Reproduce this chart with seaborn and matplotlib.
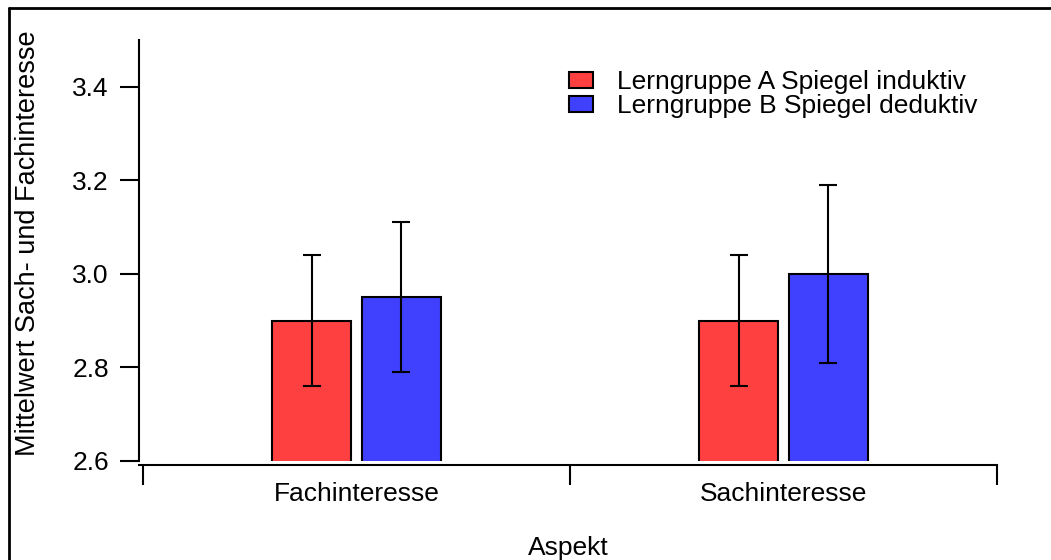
import matplotlib
matplotlib.use("Agg")
import matplotlib.pyplot as plt
import pandas as pd
import seaborn as sns
from matplotlib.lines import Line2D

# Data
aspects = ["Fachinteresse", "Sachinteresse"]
groups = ["Lerngruppe A Spiegel induktiv", "Lerngruppe B Spiegel deduktiv"]
means_a = [2.90, 2.90]
means_b = [2.95, 3.00]
err_a = [0.14, 0.14]
err_b = [0.16, 0.19]
yticks = [2.6, 2.8, 3.0, 3.2, 3.4]
colors = ["#FF4040", "#4040FF"]

df = pd.DataFrame({
    "Aspekt": aspects * 2,
    "Gruppe": [groups[0]] * 2 + [groups[1]] * 2,
    "Mittelwert": means_a + means_b,
    "Fehler": err_a + err_b,
})

sns.set_theme(style="ticks")
plt.rcParams["font.family"] = ["Liberation Sans", "DejaVu Sans"]
plt.rcParams["font.size"] = 19
plt.rcParams["text.color"] = "black"
plt.rcParams["axes.labelcolor"] = "black"
plt.rcParams["xtick.color"] = "black"
plt.rcParams["ytick.color"] = "black"
plt.rcParams["xtick.labelcolor"] = "black"
plt.rcParams["ytick.labelcolor"] = "black"

fig = plt.figure(figsize=(10.51, 5.6), dpi=100)
ax = fig.add_axes([139 / 1051, 0.1768, (997 - 139) / 1051, 0.9286 - 0.1768])

sns.barplot(
    data=df, x="Aspekt", y="Mittelwert", hue="Gruppe",
    order=aspects, hue_order=groups, palette=colors,
    width=0.42, gap=0.12, errorbar=None,
    edgecolor="black", linewidth=1.5, saturation=1, ax=ax,
)

# error bars centred on each drawn bar
for container, grp in zip(ax.containers, groups):
    sub = df[df["Gruppe"] == grp].set_index("Aspekt").loc[aspects]
    xs = [b.get_x() + b.get_width() / 2 for b in container]
    ax.errorbar(xs, sub["Mittelwert"], yerr=sub["Fehler"], fmt="none",
                ecolor="black", elinewidth=1.5, capsize=6.2, capthick=1.5,
                zorder=5)

ax.set_ylim(2.6, 3.5)
ax.set_xlim(-0.5094, 1.5)
ax.set_yticks(yticks)
ax.set_yticklabels([f"{v:.1f}" for v in yticks])
ax.set_xticks([-0.5, 0.5, 1.5], minor=False)
ax.set_xticklabels(["", "", ""])
ax.set_xticks([0, 1], minor=True)
ax.set_xticklabels(aspects, minor=True)
ax.tick_params(axis="x", which="minor", length=0, pad=12, labelsize=19)
ax.tick_params(axis="x", which="major", length=14.4, width=1.5, direction="out")
ax.tick_params(axis="y", length=13.7, width=1.5, direction="out", pad=8, labelsize=19)

for s in ["top", "right"]:
    ax.spines[s].set_visible(False)
for s in ["left", "bottom"]:
    ax.spines[s].set_linewidth(1.5)
    ax.spines[s].set_color("black")
ax.spines["bottom"].set_position(("outward", 3))

ax.set_xlabel("Aspekt", fontsize=19, labelpad=0)
ax.xaxis.set_label_coords(0.5, -0.179)
ax.set_ylabel("Mittelwert Sach- und Fachinteresse", fontsize=19.5)
ax.yaxis.set_label_coords(-0.114, 0.517)

leg = ax.legend(
    loc="upper left", bbox_to_anchor=(0.5012, 0.928), frameon=False,
    fontsize=19, handlelength=0.92, handleheight=0.54, handletextpad=0.9,
    labelspacing=0.0, borderaxespad=0, borderpad=0,
)
for h in leg.legend_handles:
    h.set_edgecolor("black")
    h.set_linewidth(1.5)

# outer frame (top and left edges)
W, H = 1051, 560
fig.add_artist(Line2D([9 / W, 1.0], [1 - 8 / H, 1 - 8 / H],
                      transform=fig.transFigure, color="black", lw=2))
fig.add_artist(Line2D([9 / W, 9 / W], [0.0, 1 - 8 / H],
                      transform=fig.transFigure, color="black", lw=2))

fig.savefig("out.png", dpi=100, facecolor="white")
